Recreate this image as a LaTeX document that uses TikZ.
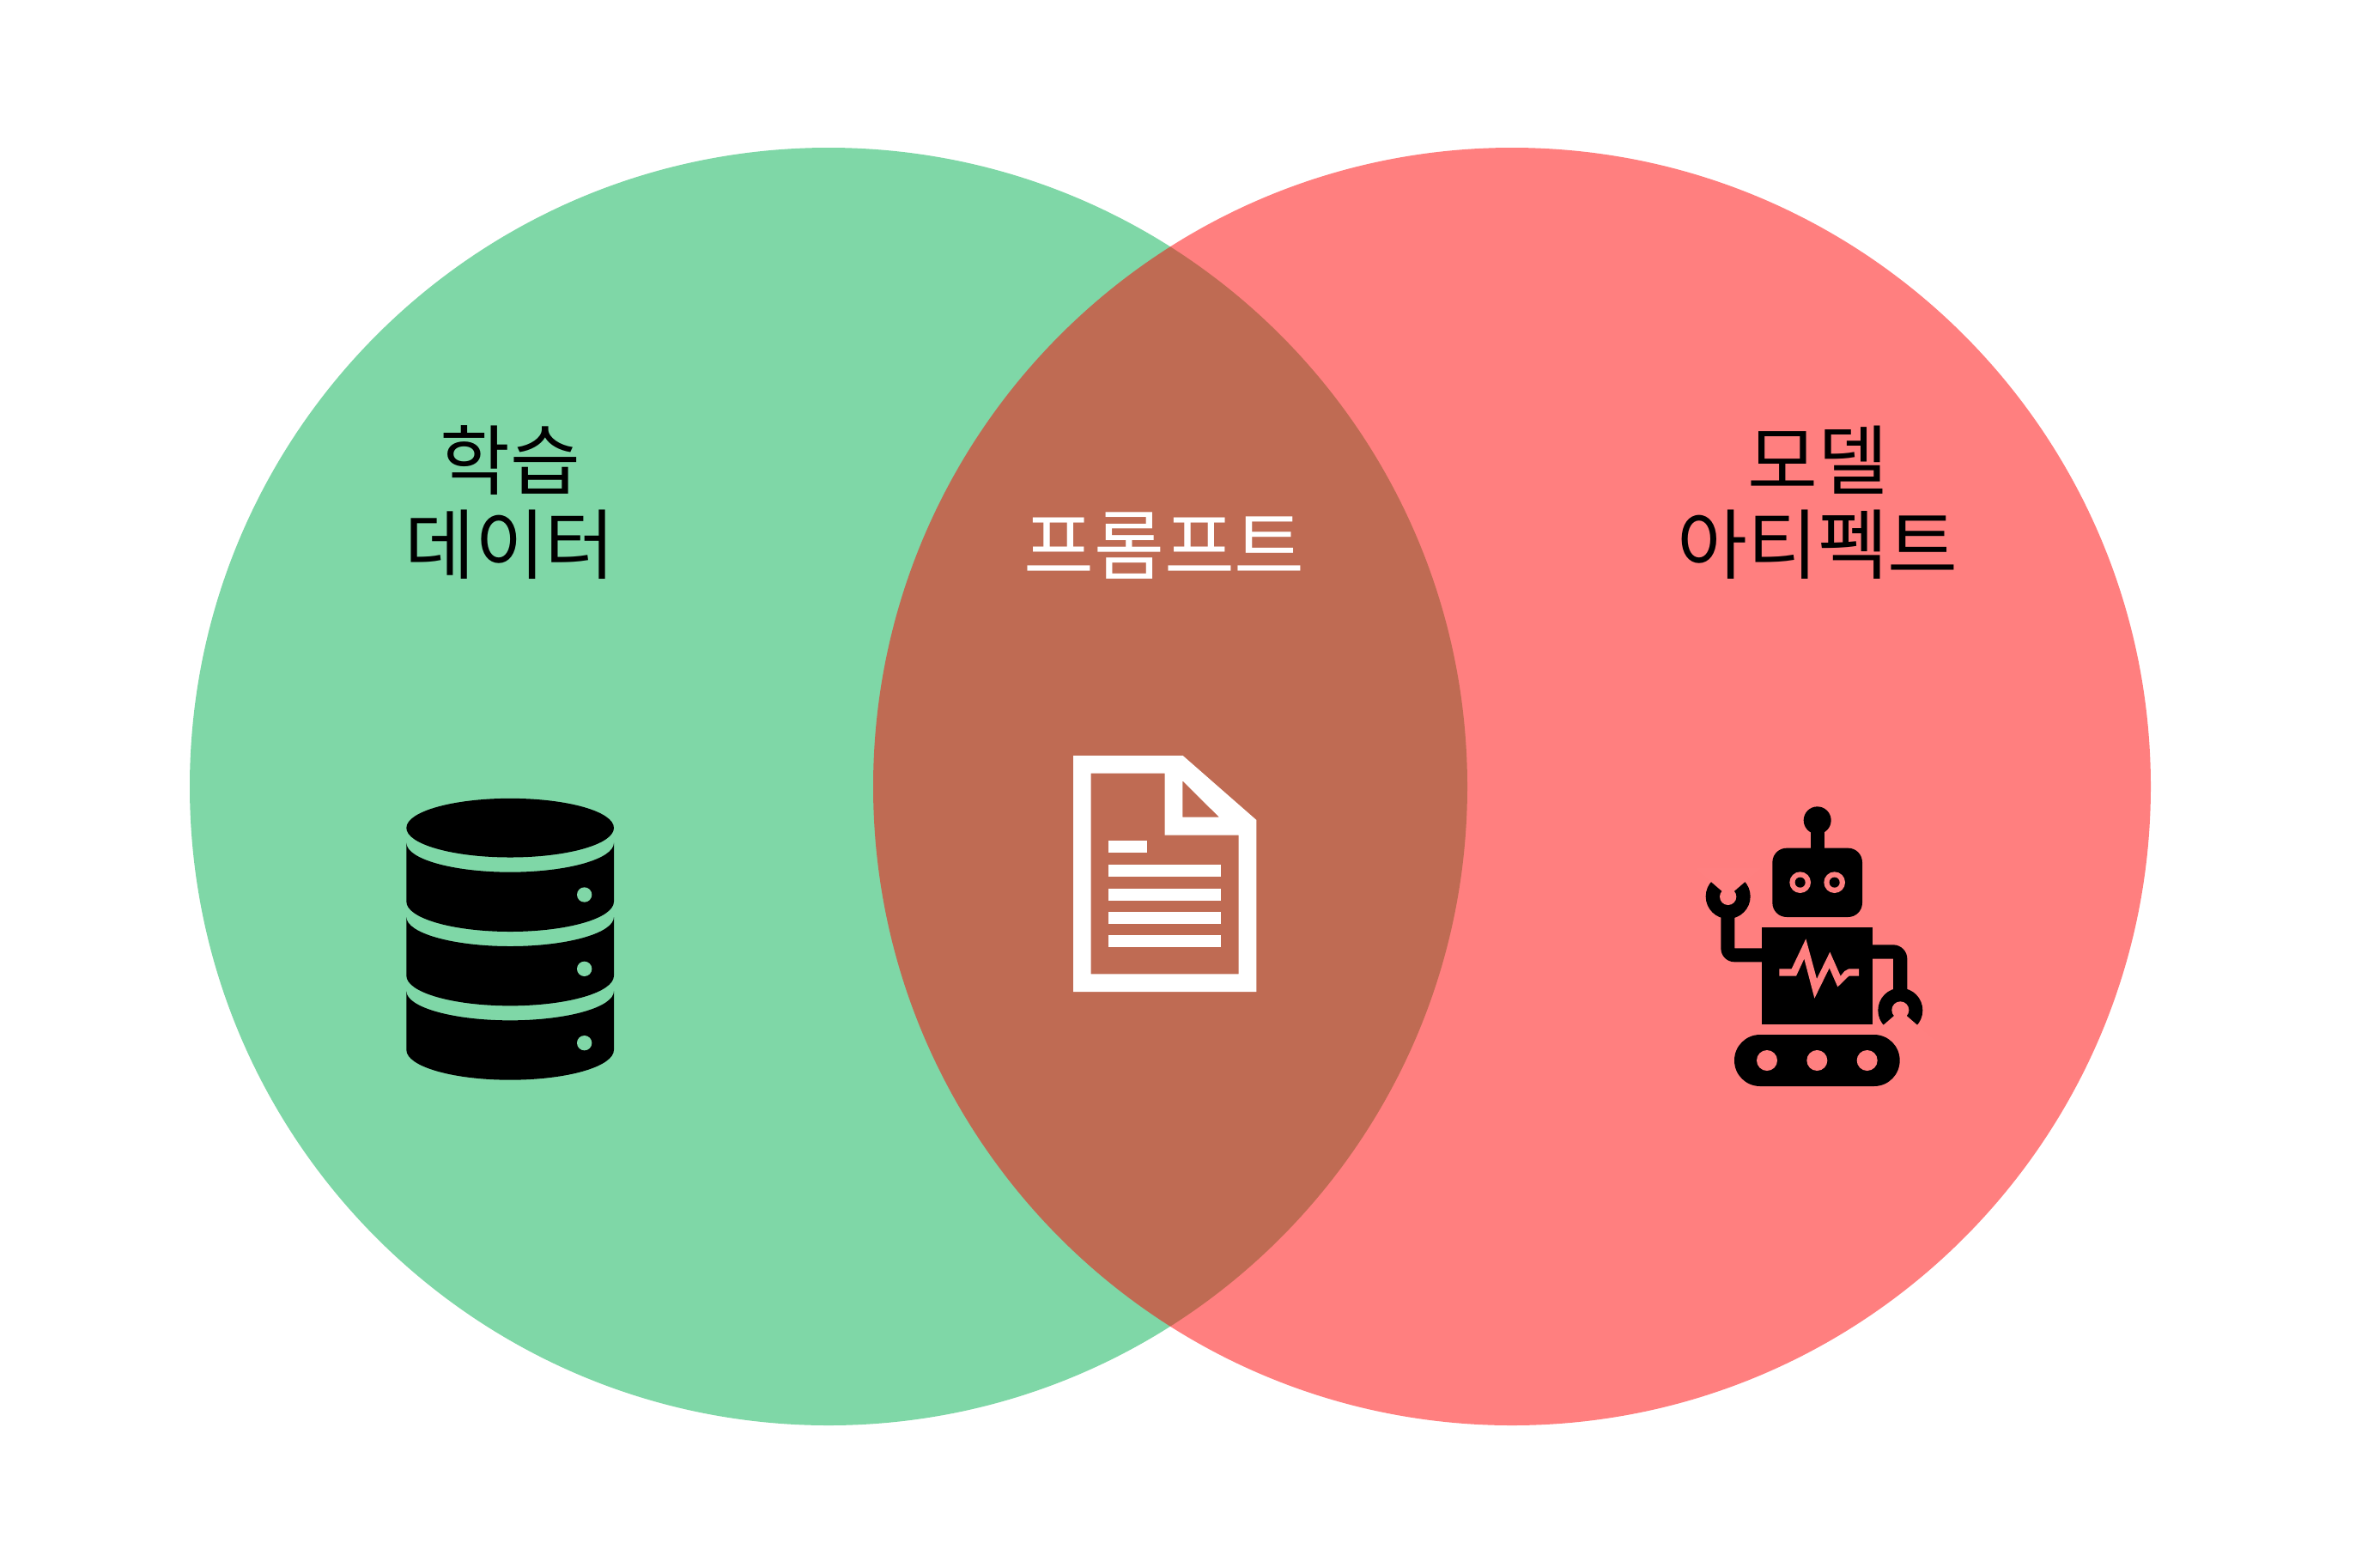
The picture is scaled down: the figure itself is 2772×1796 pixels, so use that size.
\documentclass[tikz,border=0pt]{standalone}
\usepackage{fontspec}
\newfontfamily\krfont{Noto Sans CJK KR}
\definecolor{greenbg}{HTML}{80D7A7}
\definecolor{redbg}{HTML}{FF8080}
\definecolor{venngreen}{HTML}{00B050}
\definecolor{vennred}{HTML}{FF0000}
\tikzset{
  vennset/.style={fill opacity=0.5},
  caption/.style={font=\krfont\fontsize{25.3pt}{27.8pt}\selectfont,align=center,inner sep=0pt},
  iconpart/.style={fill=black,draw=none},
}
\begin{document}
\begin{tikzpicture}[x=0.01cm,y=-0.01cm]
\path[use as bounding box,fill=white] (0,0) rectangle (2772,1796);
% circles
\fill[vennset,venngreen] (965,916) circle[radius=744];
\fill[vennset,vennred] (1761,916) circle[radius=744];
% captions
\node[caption,text=black] (train) at (594,585) {학습\\데이터};
\node[caption,text=white] (prompt) at (1356,636) {프롬프트};
\node[caption,text=black] (model) at (2117,585) {모델\\아티펙트};
% database icon
\begin{scope}[shift={(440,900)},scale=0.33333]
  \fill[iconpart] (462.5,192.5) ellipse[x radius=362.5,y radius=103];
  \foreach \d in {0,259,518}{
    \begin{scope}[shift={(0,\d)}]
      \fill[iconpart] (100,245) .. controls (100,301) and (262,347) .. (462.5,347)
        .. controls (663,347) and (825,301) .. (825,245) -- (825,450)
        .. controls (825,508) and (663,555) .. (462.5,555)
        .. controls (262,555) and (100,508) .. (100,450) -- cycle;
      \fill[greenbg] (722,426) circle[radius=26];
    \end{scope}
  }
\end{scope}
% document icon
\begin{scope}[shift={(1220,860)},scale=0.33333]
  \fill[white,even odd rule] (90,60) -- (473,60) -- (730,285) -- (730,885) -- (90,885) -- cycle
    (152,122) -- (410,122) -- (410,338) -- (668,338) -- (668,823) -- (152,823) -- cycle
    (472,148) -- (600,275) -- (472,275) -- cycle;
  \fill[white] (214,358) rectangle (348,400);
  \foreach \t in {441,524,606,688}{
    \fill[white] (214,\t) rectangle (606,\t+41.5);
  }
\end{scope}
% robot icon
\begin{scope}[shift={(1960,920)},scale=0.33333]
  % antenna and head
  \fill[iconpart] (470,106) circle[radius=48];
  \fill[iconpart] (446,120) rectangle (494,210);
  \fill[iconpart] (363,203) -- (577,203) .. controls (605,203) and (627,225) .. (627,253)
    -- (627,394) .. controls (627,422) and (605,444) .. (577,444)
    -- (363,444) .. controls (335,444) and (313,422) .. (313,394)
    -- (313,253) .. controls (313,225) and (335,203) .. (363,203) -- cycle;
  \foreach \ex in {410,530}{
    \fill[redbg] (\ex,323) circle[radius=37];
    \fill[iconpart] (\ex,323) circle[radius=18];
  }
  % body
  \fill[iconpart] (277,481) rectangle (663,818);
  \fill[redbg] (337,625) -- (380,625) -- (430,520) -- (468,660) -- (514,566) -- (551,650)
    -- (565,633) -- (580,625) -- (615,625) -- (615,650) -- (580,650) -- (541,688)
    -- (512,622) -- (460,728) -- (424,590) -- (396,650) -- (337,650) -- cycle;
  % left arm and claw
  \fill[iconpart] (280,601) -- (181,601) .. controls (154,601) and (133,580) .. (133,553)
    -- (133,430) -- (181,430) -- (181,553) -- (280,553) -- cycle;
  \fill[iconpart] (158,372) circle[radius=78];
  \fill[redbg] (158,372) -- (42,272) -- (274,272) -- cycle;
  \fill[redbg] (158,373) circle[radius=29];
  % right arm and claw
  \fill[iconpart] (660,541) -- (735,541) .. controls (762,541) and (784,563) .. (784,590)
    -- (784,710) -- (735,710) -- (735,590) -- (660,590) -- cycle;
  \fill[iconpart] (760,770) circle[radius=78];
  \fill[redbg] (760,770) -- (640,874) -- (880,874) -- cycle;
  \fill[redbg] (760,769) circle[radius=30];
  % track
  \fill[iconpart] (270,855) -- (668,855) .. controls (718,855) and (758,895) .. (758,945)
    .. controls (758,995) and (718,1035) .. (668,1035)
    -- (270,1035) .. controls (220,1035) and (180,995) .. (180,945)
    .. controls (180,895) and (220,855) .. (270,855) -- cycle;
  \foreach \hx in {294,469,644}{
    \fill[redbg] (\hx,945) circle[radius=36];
  }
\end{scope}
\end{tikzpicture}
\end{document}
